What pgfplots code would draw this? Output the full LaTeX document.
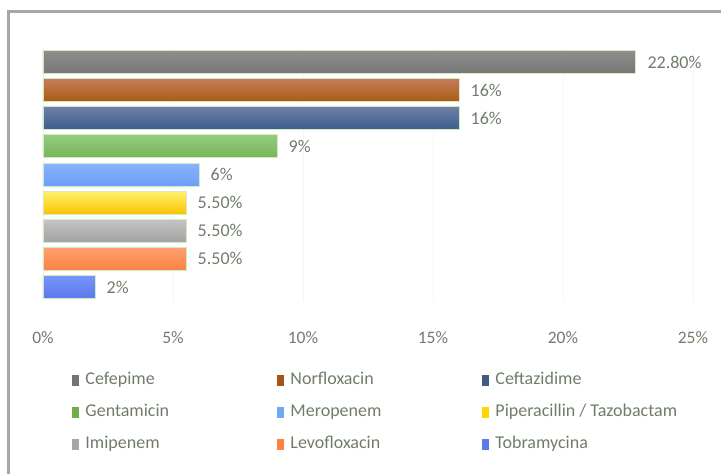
\documentclass[border=0pt]{standalone}
\usepackage{fontspec}
\setmainfont{Carlito}
\usepackage{pgfplots}
\pgfplotsset{compat=1.18}
\definecolor{txt}{RGB}{112,124,106}
\definecolor{glow}{RGB}{210,235,195}
% bar colours (top, bottom, legend)
\definecolor{cefT}{RGB}{142,142,142}\definecolor{cefB}{RGB}{118,118,118}\definecolor{cefL}{RGB}{115,115,115}
\definecolor{norT}{RGB}{196,124,92}\definecolor{norB}{RGB}{170,92,18}\definecolor{norL}{RGB}{165,85,25}
\definecolor{cftT}{RGB}{110,128,168}\definecolor{cftB}{RGB}{58,94,138}\definecolor{cftL}{RGB}{62,90,133}
\definecolor{genT}{RGB}{150,204,126}\definecolor{genB}{RGB}{118,180,88}\definecolor{genL}{RGB}{112,173,71}
\definecolor{merT}{RGB}{136,180,252}\definecolor{merB}{RGB}{108,158,246}\definecolor{merL}{RGB}{111,168,245}
\definecolor{pipT}{RGB}{255,240,110}\definecolor{pipB}{RGB}{250,196,0}\definecolor{pipL}{RGB}{255,215,0}
\definecolor{imiT}{RGB}{196,196,196}\definecolor{imiB}{RGB}{162,162,162}\definecolor{imiL}{RGB}{166,166,166}
\definecolor{levT}{RGB}{255,160,110}\definecolor{levB}{RGB}{250,130,70}\definecolor{levL}{RGB}{255,128,64}
\definecolor{tobT}{RGB}{120,150,250}\definecolor{tobB}{RGB}{90,120,234}\definecolor{tobL}{RGB}{91,123,234}
\pgfplotsset{
  mybar/.style n args={3}{xbar, bar width=23pt, bar shift=0pt, draw=glow, line width=0.8pt,
     top color=#1, bottom color=#2,
     legend image code/.code={\pgfsetfillcolor{#3}\pgfpathrectangle{\pgfpoint{0pt}{-5.5pt}}{\pgfpoint{7pt}{11pt}}\pgfusepath{fill}}},
}
\begin{document}
\begin{tikzpicture}[x=1pt,y=1pt]
\useasboundingbox (0,0) rectangle (721,-474);
\draw[line width=2.5pt, color=black!35] (8.5,-11.5) rectangle (760,-520);
\begin{axis}[
  at={(43pt,-47.9pt)}, anchor=north west, scale only axis,
  width=650pt, height=253.2pt,
  xmin=0, xmax=25, ymin=-0.5, ymax=8.5, y dir=reverse,
  axis line style={draw=none}, major tick length=0pt,
  ytick=\empty,
  xtick={0,5,10,15,20,25},
  xticklabels={0\%,5\%,10\%,15\%,20\%,25\%},
  xmajorgrids, grid style={color=black!4, line width=0.6pt},
  xticklabel style={font=\fontsize{17.5}{20}\selectfont, color=txt, yshift=-27pt},
  point meta=explicit symbolic,
  nodes near coords,
  nodes near coords style={anchor=west, font=\fontsize{18}{20}\selectfont, color=txt, xshift=8pt},
  legend columns=3,
  legend cell align=left,
  legend style={at={(0.045,-0.278)}, anchor=north west, draw=none, fill=none,
     inner sep=0pt, row sep=14pt,
     /tikz/every odd column/.append style={column sep=5pt},
     nodes={inner sep=1pt, text height=12pt, text depth=4pt, font=\fontsize{18}{20}\selectfont, color=txt}},
  clip=false,
]
\addplot[mybar={cefT}{cefB}{cefL}] coordinates {(22.8,0) [22.80\%]};
\addplot[mybar={norT}{norB}{norL}] coordinates {(16,1) [16\%]};
\addplot[mybar={cftT}{cftB}{cftL}] coordinates {(16,2) [16\%]};
\addplot[mybar={genT}{genB}{genL}] coordinates {(9,3) [9\%]};
\addplot[mybar={merT}{merB}{merL}] coordinates {(6,4) [6\%]};
\addplot[mybar={pipT}{pipB}{pipL}] coordinates {(5.5,5) [5.50\%]};
\addplot[mybar={imiT}{imiB}{imiL}] coordinates {(5.5,6) [5.50\%]};
\addplot[mybar={levT}{levB}{levL}] coordinates {(5.5,7) [5.50\%]};
\addplot[mybar={tobT}{tobB}{tobL}] coordinates {(2,8) [2\%]};
\legend{\makebox[191pt][l]{Cefepime},\makebox[191pt][l]{Norfloxacin},Ceftazidime,
        \makebox[191pt][l]{Gentamicin},\makebox[191pt][l]{Meropenem},Piperacillin / Tazobactam,
        \makebox[191pt][l]{Imipenem},\makebox[191pt][l]{Levofloxacin},Tobramycina}
\end{axis}
\end{tikzpicture}
\end{document}
